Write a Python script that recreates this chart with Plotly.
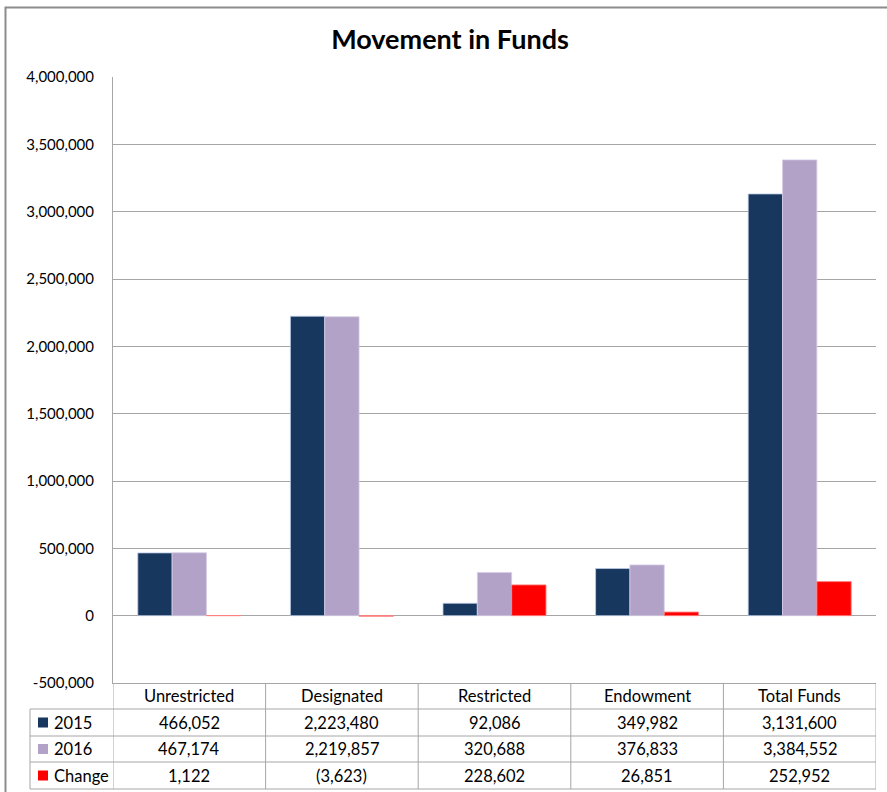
import plotly.graph_objects as go

# ---- data ----
categories = ["Unrestricted", "Designated", "Restricted", "Endowment", "Total Funds"]
series_names = ["2015", "2016", "Change"]
values_2015 = [466052, 2223480, 92086, 349982, 3131600]
values_2016 = [467174, 2219857, 320688, 376833, 3384552]
values_change = [1122, -3623, 228602, 26851, 252952]
y_tick_values = [-500000, 0, 500000, 1000000, 1500000, 2000000, 2500000, 3000000, 3500000, 4000000]
y_tick_labels = [f"{v:,}" for v in y_tick_values]

colors = ["#17375E", "#B3A2C7", "#FF0000"]
edge_colors = ["rgba(190,205,230,0.8)", "rgba(215,205,230,0.8)", "rgba(255,130,130,0.9)"]
series_values = [values_2015, values_2016, values_change]

# ---- geometry (screen pixels; body margin removed via post_script) ----
W, H = 887, 792
L, R, T, B = 113, 876, 77, 683
PW, PH = R - L, B - T
FONT = "Lato, 'Open Sans', sans-serif"
LINE = "#A6A6A6"


def px(X):
    return (X - L) / PW


def py(Y):
    return (B - Y) / PH


def fmt(v):
    return f"({abs(v):,})" if v < 0 else f"{v:,}"


fig = go.Figure()
for name, vals, col, ec in zip(series_names, series_values, colors, edge_colors):
    fig.add_trace(go.Bar(
        x=categories, y=vals, name=name,
        marker=dict(color=col, line=dict(color=ec, width=1)),
    ))

shapes = []
annotations = []

# outer border (extends past right/bottom edges)
shapes.append(dict(type="rect", xref="paper", yref="paper",
                   x0=px(5.5), x1=px(W + 20), y0=py(7.5), y1=py(H + 20),
                   line=dict(color="#8C8C8C", width=2), layer="above"))

# table rows
row_edges = [709, 736, 762, 789]
for Y in row_edges:
    shapes.append(dict(type="line", xref="paper", yref="paper",
                       x0=px(30), x1=1, y0=py(Y), y1=py(Y),
                       line=dict(color=LINE, width=1)))
# left label column line
shapes.append(dict(type="line", xref="paper", yref="paper",
                   x0=px(30), x1=px(30), y0=py(709), y1=py(789),
                   line=dict(color=LINE, width=1)))
# column boundaries
for i in range(len(categories) + 1):
    shapes.append(dict(type="line", xref="x", yref="paper",
                       x0=i - 0.5, x1=i - 0.5, y0=py(683), y1=py(789),
                       line=dict(color=LINE, width=1)))

TXT = dict(family=FONT, size=16.5, color="#000")

# header category names
for i, c in enumerate(categories):
    annotations.append(dict(x=i, y=py(696), xref="x", yref="paper", text=c,
                            showarrow=False, xanchor="center", yanchor="middle",
                            font=TXT))

row_centers = [722.5, 749, 775.5]
for name, vals, col, Yc in zip(series_names, series_values, colors, row_centers):
    shapes.append(dict(type="rect", xref="paper", yref="paper",
                       x0=px(38), x1=px(48), y0=py(Yc + 5), y1=py(Yc - 5),
                       fillcolor=col, line=dict(width=0)))
    annotations.append(dict(x=px(52), y=py(Yc), xref="paper", yref="paper", text=name,
                            showarrow=False, xanchor="left", yanchor="middle",
                            font=TXT))
    for i, v in enumerate(vals):
        annotations.append(dict(x=i, y=py(Yc), xref="x", yref="paper", text=fmt(v),
                                showarrow=False, xanchor="center", yanchor="middle",
                                font=TXT))

fig.update_layout(
    width=W, height=H,
    margin=dict(l=L, r=W - R, t=T, b=H - B, pad=0),
    paper_bgcolor="white", plot_bgcolor="white",
    showlegend=False,
    barmode="group", bargap=0.325, bargroupgap=0,
    title=dict(text="<b>Movement in Funds</b>", x=450 / W, xanchor="center",
               y=1 - 40 / H, yanchor="middle",
               font=dict(family=FONT, size=27, color="#000")),
    xaxis=dict(range=[-0.5, len(categories) - 0.5], showticklabels=False,
               showgrid=False, showline=True, linecolor=LINE, linewidth=1,
               zeroline=False, ticks=""),
    yaxis=dict(range=[-500000, 4000000], tickvals=y_tick_values, ticktext=y_tick_labels,
               showgrid=True, gridcolor="#A6A6A6", gridwidth=1,
               showline=True, linecolor=LINE, linewidth=1, zeroline=False,
               ticks="", ticklabelstandoff=15,
               tickfont=dict(family=FONT, size=15, color="#000")),
    shapes=shapes, annotations=annotations,
)

fig.write_html("out.html", config={"displayModeBar": False},
               post_script="document.body.style.margin='0';document.body.style.overflow='hidden';")
